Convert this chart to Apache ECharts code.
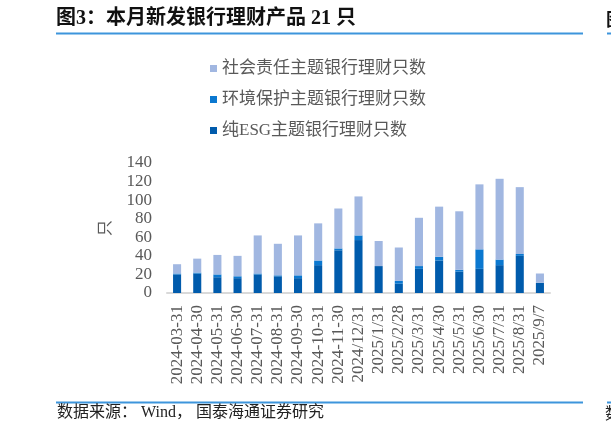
<!DOCTYPE html>
<html>
<head>
<meta charset="utf-8">
<style>
  html, body { margin: 0; padding: 0; background: #fff; }
  #chart { width: 611px; height: 436px; }
</style>
<script src="https://cdn.jsdelivr.net/npm/echarts@6/dist/echarts.min.js"></script>
</head>
<body>
<div id="chart"></div>
<script>
// 日期
var categories = ['2024-03-31', '2024-04-30', '2024-05-31', '2024-06-30', '2024-07-31',
  '2024-08-31', '2024-09-30', '2024-10-31', '2024-11-30', '2024/12/31', '2025/1/31',
  '2025/2/28', '2025/3/31', '2025/4/30', '2025/5/31', '2025/6/30', '2025/7/31',
  '2025/8/31', '2025/9/7']
// 纯ESG
var pureEsg = [20, 21, 17, 16, 20, 18, 16, 30, 46, 57, 29, 10, 26, 35, 23, 26, 30, 40, 11]
// 环境保护
var envData = [1, 1, 3, 2, 1, 1, 3, 5, 2, 5, 0, 3, 3, 4, 2, 21, 6, 2, 0]
// 社会责任
var socialData = [10, 15, 21, 22, 41, 34, 43, 40, 43, 42, 27, 36, 52, 54, 63, 70, 87, 72, 10]

var serif = "'Liberation Serif', 'Times New Roman', 'Noto Sans CJK SC', serif"

var myCharts = echarts.init(document.getElementById('chart'))
var options = {
  animation: false,
  backgroundColor: '#fff',
  legend: {
    orient: 'vertical',
    left: 205,
    top: 55,
    itemWidth: 7,
    itemHeight: 7,
    itemGap: 14,
    icon: 'rect',
    textStyle: { color: '#595959', fontSize: 17, fontFamily: serif },
    data: ['社会责任主题银行理财只数', '环境保护主题银行理财只数', '纯ESG主题银行理财只数']
  },
  grid: { left: 167, right: 61, top: 163, bottom: 143 },
  xAxis: [{
    type: 'category',
    data: categories,
    axisLine: { lineStyle: { color: '#d9d9d9', width: 2 } },
    axisTick: { show: false },
    axisLabel: {
      rotate: 90,
      interval: 0,
      margin: 12,
      color: '#595959',
      fontSize: 17,
      fontFamily: serif
    }
  }],
  yAxis: [{
    type: 'value',
    min: 0,
    max: 140,
    interval: 20,
    name: '只',
    nameLocation: 'middle',
    nameRotate: 90,
    nameGap: 53,
    nameTextStyle: { color: '#595959', fontSize: 16, fontFamily: serif },
    splitLine: { show: false },
    axisLine: { show: false },
    axisTick: { show: false },
    axisLabel: { margin: 15, color: '#595959', fontSize: 17, fontFamily: serif }
  }],
  series: [{
    name: '纯ESG主题银行理财只数',
    type: 'bar',
    stack: 'all',
    barWidth: '40%',
    itemStyle: { color: '#005BAC' },
    data: pureEsg
  }, {
    name: '环境保护主题银行理财只数',
    type: 'bar',
    stack: 'all',
    barWidth: '40%',
    itemStyle: { color: '#0B78D0' },
    data: envData
  }, {
    name: '社会责任主题银行理财只数',
    type: 'bar',
    stack: 'all',
    barWidth: '40%',
    itemStyle: { color: '#A1B7E1' },
    data: socialData
  }],
  graphic: [
    {
      type: 'text', left: 56, top: 9,
      style: { text: '图3：本月新发银行理财产品 21 只', fill: '#111', font: "bold 20px 'Liberation Serif', 'Noto Sans CJK SC', serif" }
    },
    { type: 'rect', shape: { x: 56, y: 32.5, width: 527, height: 2 }, style: { fill: '#3d95dc' } },
    { type: 'rect', shape: { x: 607, y: 32.5, width: 10, height: 2 }, style: { fill: '#3d95dc' } },
    {
      type: 'text', left: 606, top: 10,
      style: { text: '图', fill: '#111', font: "bold 18px 'Noto Sans CJK SC', serif" }
    },
    { type: 'rect', shape: { x: 56, y: 401.5, width: 527, height: 2 }, style: { fill: '#3d95dc' } },
    { type: 'rect', shape: { x: 607, y: 401.5, width: 10, height: 2 }, style: { fill: '#3d95dc' } },
    {
      type: 'text', left: 57, top: 405,
      style: { text: '数据来源： Wind， 国泰海通证券研究', fill: '#222', font: "16px 'Liberation Serif', 'Noto Sans CJK SC', serif" }
    },
    {
      type: 'text', left: 605, top: 405,
      style: { text: '数', fill: '#222', font: "16px 'Noto Sans CJK SC', serif" }
    }
  ]
}
myCharts.setOption(options)
</script>
</body>
</html>
